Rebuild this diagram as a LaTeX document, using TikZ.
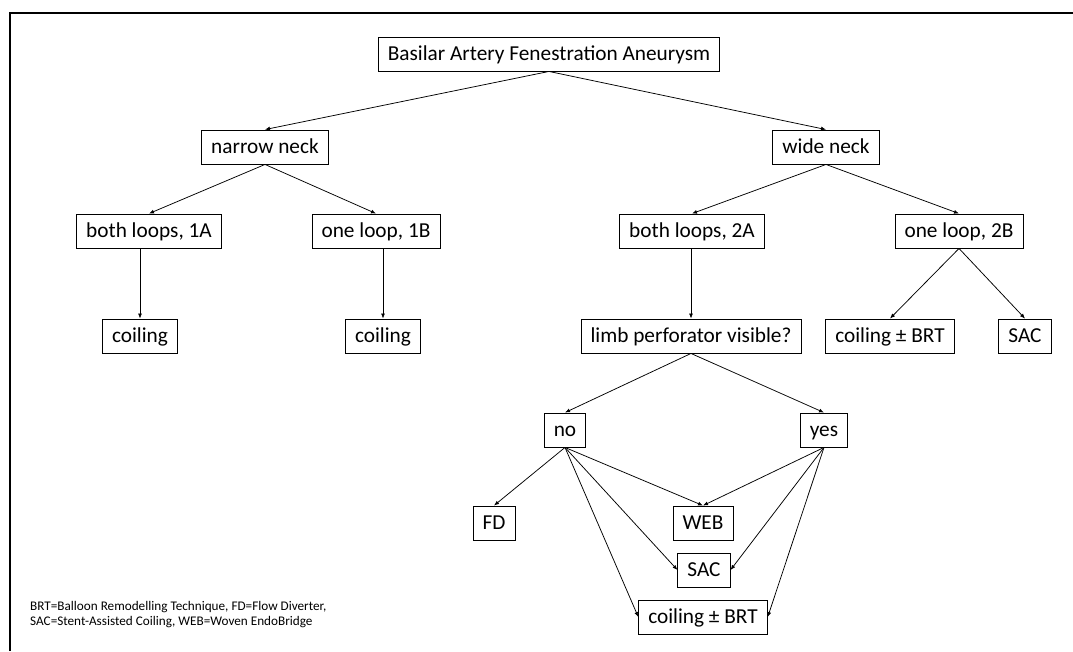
\documentclass[tikz,border=0pt]{standalone}
\usepackage{fontspec}
\setmainfont{Carlito}
\usetikzlibrary{arrows.meta}

\begin{document}
\begin{tikzpicture}[x=1pt,y=-1pt]

	\useasboundingbox (0,0) rectangle (1073,651);
	\draw[line width=1.8pt] (10,651) -- (10,13) -- (1073,13);

	\begin{scope}[every node/.style={draw, line width=0.9pt, fill=white, text height=15.5pt, text depth=3.5pt, inner ysep=7.5pt, inner xsep=9.5pt, font=\fontsize{21.3}{25}\selectfont}]
		\node (root) at (549,54) {Basilar Artery Fenestration Aneurysm};
		\node (nn) at (265,147) {narrow neck};
		\node (wn) at (826,147) {wide neck};

		\node (b1a) at (149,231) {both loops, 1A};
		\node (o1b) at (376,231) {one loop, 1B};
		\node (b2a) at (692,231) {both loops, 2A};
		\node (o2b) at (959,231) {one loop, 2B};

		\node (c1a) at (140,336) {coiling};
		\node (c1b) at (383,336) {coiling};
		\node (limb) at (691,336) {limb perforator visible?};
		\node (c2b) at (890,336) {coiling ± BRT};
		\node (sac2b) at (1025,336) {SAC};

		\node (no) at (565,430) {no};
		\node (yes) at (824,430) {yes};

		\node (fd) at (494,523) {FD};
		\node (web) at (703,523) {WEB};
		\node (sac) at (704,570) {SAC};
		\node (cbrt) at (703,617) {coiling ± BRT};
	\end{scope}

	\node[anchor=north west, align=left, inner sep=0pt, font=\fontsize{13.2}{15}\selectfont] (key) at (30,601)
		{BRT=Balloon Remodelling Technique, FD=Flow Diverter,\\SAC=Stent-Assisted Coiling, WEB=Woven EndoBridge};

	\begin{scope}[->, >={Latex[length=5pt,width=4pt]}, line width=0.75pt]
		\foreach \t in {nn,wn}
			\draw (root.south) -- (\t.north);
		\foreach \t in {b1a,o1b}
			\draw (nn.south) -- (\t.north);
		\foreach \t in {b2a,o2b}
			\draw (wn.south) -- (\t.north);
		\foreach \t in {c2b,sac2b}
			\draw (o2b.south) -- (\t.north);

		\draw (b1a.south -| c1a.north) -- (c1a.north);
		\draw (o1b.south -| c1b.north) -- (c1b.north);
		\draw (b2a.south -| limb.north) -- (limb.north);

		\draw (limb.south) -- (no.north);
		\draw (limb.south) -- (yes.north);

		\foreach \t/\a in {fd/north, web/north, sac/west, cbrt/west}
			\draw (no.south) -- (\t.\a);
		\foreach \t/\a in {web/north, sac/east, cbrt/east}
			\draw (yes.south) -- (\t.\a);
	\end{scope}

\end{tikzpicture}
\end{document}
